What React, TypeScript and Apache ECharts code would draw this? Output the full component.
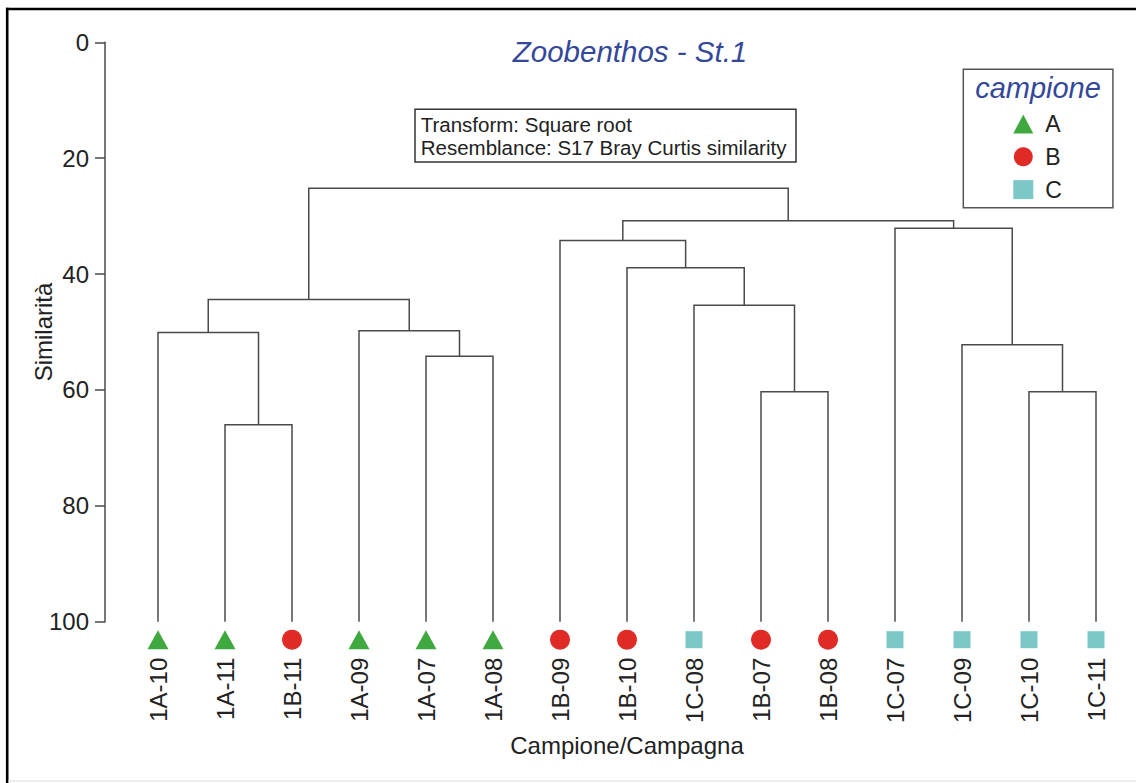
import React, { useEffect, useRef } from "react";
import * as echarts from "echarts";

// ---- data ----
const leafNames = ["1A-10", "1A-11", "1B-11", "1A-09", "1A-07", "1A-08", "1B-09", "1B-10", "1C-08", "1B-07", "1B-08", "1C-07", "1C-09", "1C-10", "1C-11"];
const leafGroups = ["A", "A", "B", "A", "A", "A", "B", "B", "C", "B", "B", "C", "C", "C", "C"];
// merges: node ids 0..14 are leaves, merge k creates node 15+k
const mergeLeft = [1, 0, 4, 3, 16, 9, 8, 7, 6, 13, 12, 11, 23, 19];
const mergeRight = [2, 15, 5, 17, 18, 10, 20, 21, 22, 14, 24, 25, 26, 27];
const mergeHeight = [66.0, 50.1, 54.2, 49.8, 44.4, 60.3, 45.4, 38.9, 34.2, 60.3, 52.2, 32.1, 30.8, 25.2];
const groupNames = ["A", "B", "C"];
const groupSymbols = ["triangle", "circle", "rect"];
const groupColors = ["#3fa93f", "#df2a25", "#7cc8c8"];
const groupSizes: any[] = [[21, 19], 20, 17];

const FONT = "'Liberation Sans', Arial, Helvetica, sans-serif";

function buildBranches() {
  const pos: number[] = leafNames.map((_, i) => i);
  const hgt: number[] = leafNames.map(() => 100);
  const out: any[] = [];
  mergeLeft.forEach((l, k) => {
    const r = mergeRight[k];
    const h = mergeHeight[k];
    out.push({
      coords: [
        [pos[l], hgt[l]],
        [pos[l], h],
        [pos[r], h],
        [pos[r], hgt[r]],
      ],
    });
    pos.push((pos[l] + pos[r]) / 2);
    hgt.push(h);
  });
  return out;
}

export default function App() {
  const ref = useRef<HTMLDivElement>(null);
  useEffect(() => {
    if (!ref.current) return;
    const chart = echarts.init(ref.current, null, { renderer: "svg" });
    const lineColor = "#4a4a4a";
    const scatterSeries = groupNames.map((g, gi) => ({
      type: "scatter",
      name: g,
      xAxisIndex: 0,
      yAxisIndex: 0,
      symbol: groupSymbols[gi],
      symbolSize: groupSizes[gi],
      symbolOffset: [0, 18],
      clip: false,
      itemStyle: { color: groupColors[gi], opacity: 1 },
      z: 5,
      data: leafNames
        .map((n, i) => (leafGroups[i] === g ? [n, 100] : null))
        .filter((d) => d !== null),
    }));
    chart.setOption({
      animation: false,
      backgroundColor: "#ffffff",
      textStyle: { fontFamily: FONT },
      grid: { left: 124.5, right: 6.5, top: 42.3, bottom: 161.3, containLabel: false },
      xAxis: [
        {
          type: "category",
          data: leafNames,
          boundaryGap: true,
          axisLine: { show: false },
          axisTick: { show: false },
          splitLine: { show: false },
          axisLabel: { rotate: 90, margin: 36, fontSize: 24, color: "#222", fontFamily: FONT },
          name: "Campione/Campagna",
          nameLocation: "middle",
          nameGap: 112,
          nameTextStyle: { fontSize: 24, color: "#222", fontFamily: FONT },
        },
        { type: "value", min: -0.5, max: 14.5, show: false },
      ],
      yAxis: [
        {
          type: "value",
          inverse: true,
          min: 0,
          max: 100,
          interval: 20,
          offset: 19.5,
          axisLine: { show: true, onZero: false, lineStyle: { color: lineColor, width: 1.5 } },
          axisTick: { show: true, length: 10, lineStyle: { color: lineColor, width: 1.5 } },
          axisLabel: { margin: 16, fontSize: 24, color: "#222", fontFamily: FONT },
          splitLine: { show: false },
          name: "Similarità",
          nameLocation: "middle",
          nameMoveOverlap: false,
          nameGap: 50,
          nameTextStyle: { fontSize: 24, color: "#222", fontFamily: FONT },
        },
        {
          type: "value",
          inverse: true,
          min: 0,
          max: 100,
          interval: 20,
          offset: 19.5,
          axisLine: { show: false, onZero: false },
          axisTick: { show: true, inside: true, length: 10, lineStyle: { color: lineColor, width: 1.5 } },
          axisLabel: { show: false },
          splitLine: { show: false },
        },
      ],
      legend: {
        orient: "vertical",
        left: 963.3,
        top: 69.3,
        padding: [43.2, 51, 6.6, 50],
        itemGap: 9.8,
        itemWidth: 20,
        itemHeight: 19,
        borderColor: "#555",
        borderWidth: 1.5,
        selectedMode: false,
        textStyle: { fontSize: 23, color: "#222", fontFamily: FONT, padding: [0, 0, 0, 7] },
        data: groupNames.map((g, gi) => ({ name: g, icon: groupSymbols[gi] })),
      },
      graphic: [
        { type: "line", shape: { x1: 7.2, y1: 7.8, x2: 7.2, y2: 783 }, style: { stroke: "#000", lineWidth: 2.6 } },
        { type: "line", shape: { x1: 6, y1: 9, x2: 1136, y2: 9 }, style: { stroke: "#000", lineWidth: 2.6 } },
        { type: "line", shape: { x1: 8, y1: 781, x2: 1136, y2: 781 }, style: { stroke: "#dddddd", lineWidth: 1 } },
        {
          type: "text",
          x: 630,
          y: 51,
          style: {
            text: "Zoobenthos - St.1",
            fontSize: 29.5,
            fontStyle: "italic",
            fontFamily: FONT,
            fill: "#34489a",
            textAlign: "center",
            textVerticalAlign: "middle",
          },
        },
        {
          type: "rect",
          shape: { x: 415, y: 109.3, width: 381, height: 52.7 },
          style: { fill: "#fff", stroke: "#333", lineWidth: 1.5 },
        },
        {
          type: "text",
          x: 420.7,
          y: 124,
          style: { text: "Transform: Square root", fontSize: 20.5, fontFamily: FONT, fill: "#222", textVerticalAlign: "middle" },
        },
        {
          type: "text",
          x: 420.7,
          y: 147.5,
          style: { text: "Resemblance: S17 Bray Curtis similarity", fontSize: 20.5, fontFamily: FONT, fill: "#222", textVerticalAlign: "middle" },
        },
        {
          type: "text",
          x: 1038,
          y: 87.5,
          style: {
            text: "campione",
            fontSize: 29,
            fontStyle: "italic",
            fontFamily: FONT,
            fill: "#34489a",
            textAlign: "center",
            textVerticalAlign: "middle",
          },
        },
      ],
      series: [
        {
          type: "lines",
          coordinateSystem: "cartesian2d",
          xAxisIndex: 1,
          yAxisIndex: 0,
          polyline: true,
          silent: true,
          lineStyle: { color: lineColor, width: 1.5, opacity: 1 },
          data: buildBranches(),
        },
        ...scatterSeries,
      ],
    });
    return () => chart.dispose();
  }, []);
  return <div ref={ref} style={{ position: "absolute", left: 0, top: 0, width: 1136, height: 783 }} />;
}
